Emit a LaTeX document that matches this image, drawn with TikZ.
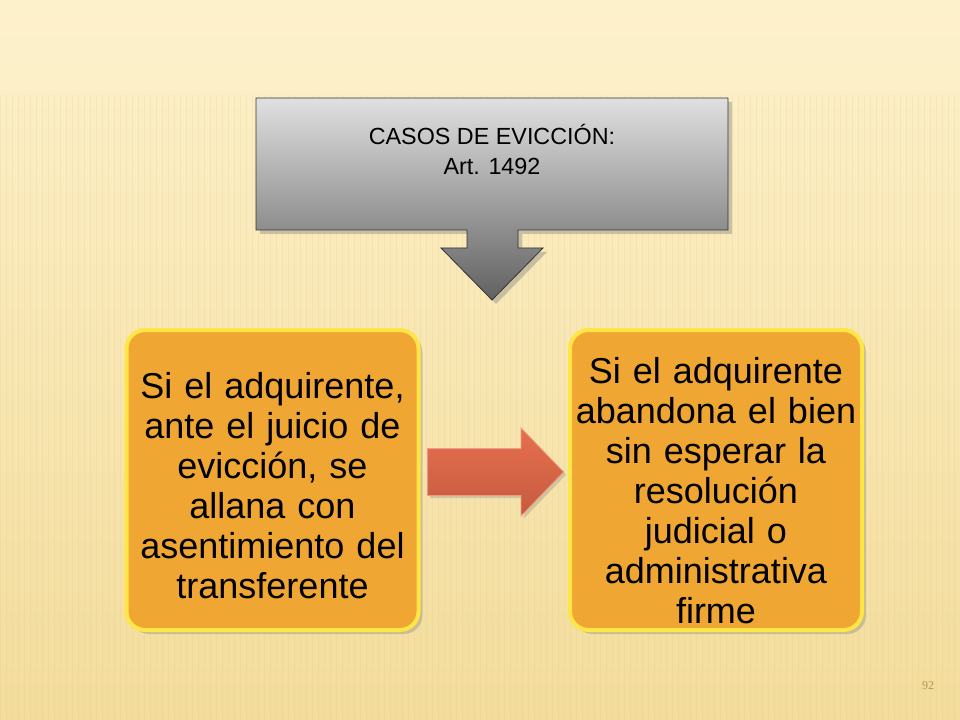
\documentclass[tikz,border=0pt]{standalone}
\usepackage{fontspec}
\setmainfont{Liberation Sans}
\newfontfamily\numfont{Liberation Serif}
\usetikzlibrary{shapes.arrows,shadows,calc}
\definecolor{crema}{HTML}{FDF1CC}
\definecolor{cremaosc}{HTML}{F3DC9C}
\definecolor{raya}{HTML}{EBCF80}
\definecolor{naranja}{HTML}{F0A632}
\definecolor{brillo}{HTML}{FFE545}
\definecolor{rojizo}{HTML}{E6704F}
\definecolor{rojoosc}{HTML}{C65A3E}
\definecolor{folio}{HTML}{B8964C}
\tikzset{
  caso/.style={rounded corners=14pt, fill=naranja, draw=brillo, line width=3pt,
    minimum width=219pt, minimum height=225pt, text width=214pt, align=center,
    inner xsep=2pt, inner ysep=2pt,
    font=\fontsize{27}{30}\selectfont, drop shadow={shadow xshift=3pt, shadow yshift=-3pt, opacity=.35}},
}

\begin{document}
\begin{tikzpicture}[x=0.75pt,y=-0.75pt]
  \useasboundingbox (0,0) rectangle (960,720);
  % fondo
  \shade[top color=crema, bottom color=cremaosc] (0,0) rectangle (960,720);
  \foreach \i in {0,6,...,960}
    \draw[raya, opacity=.25, line width=.6pt] (\i,95) -- (\i,720);
  \fill[crema, opacity=.5] (0,0) rectangle (960,90);

  % recuadro gris con flecha
  \shade[top color=black!12, bottom color=black!62, draw=black!80, line width=.6pt,
    drop shadow={shadow xshift=3pt, shadow yshift=-3pt, opacity=.4}]
    (256,98) -- (728,98) -- (728,230) -- (518,230) -- (518,248) -- (543,248)
    -- (492,300) -- (441,248) -- (467,248) -- (467,230) -- (256,230) -- cycle;
  \node[align=center, font=\fontsize{17.5}{22.5}\selectfont] (titulo) at (492,149)
    {CASOS DE EVICCIÓN:\\Art. 1492};

  % casos
  \node[caso] (izq) at (272.5,480)
    {\rule{0pt}{28pt}Si el adquirente,\\ante el juicio de\\evicción, se\\allana con\\asentimiento del\\transferente};
  \node[caso] (der) at (716,480)
    {\rule{0pt}{35pt}Si el adquirente\\abandona el bien\\sin esperar la\\resolución\\judicial o\\administrativa\\firme};

  % flecha roja
  \node[single arrow, shape border rotate=0, single arrow tip angle=92,
    single arrow head extend=15.5pt, inner xsep=0pt, inner ysep=17.25pt, minimum width=65pt,
    minimum height=102pt, top color=rojizo, bottom color=rojoosc, draw=rojizo!70!white,
    line width=.6pt, drop shadow={shadow xshift=2pt, shadow yshift=-2pt, opacity=.3}]
    (paso) at ($(izq.east)!0.5!(der.west)+(-10,-8)$) {};

  \node[text=folio, font=\numfont\fontsize{9}{9}\selectfont] (pagina) at (928,686) {92};
\end{tikzpicture}
\end{document}
